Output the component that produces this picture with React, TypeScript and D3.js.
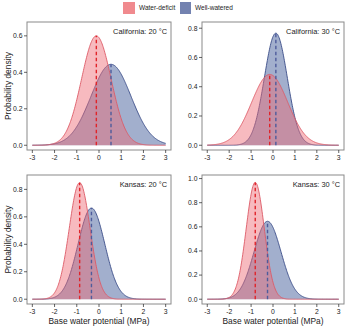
import React from 'react'
import * as d3 from 'd3'

// panel titles, in reading order
const panelTitles = ['California: 20 °C', 'California: 30 °C', 'Kansas: 20 °C', 'Kansas: 30 °C']

// fitted normal curves: mean (dashed line) and peak density
const deficitMeans = [-0.12, -0.15, -0.87, -0.81]
const deficitPeaks = [0.6, 0.484, 0.849, 0.968]
const wateredMeans = [0.54, 0.13, -0.34, -0.25]
const wateredPeaks = [0.444, 0.766, 0.664, 0.646]

// axis limits and ticks
const yLimits = [0.65, 0.81, 0.87, 0.99]
const yTicks = [
  [0, 0.2, 0.4, 0.6],
  [0, 0.2, 0.4, 0.6, 0.8],
  [0, 0.2, 0.4, 0.6, 0.8],
  [0, 0.2, 0.4, 0.6, 0.8, 1.0],
]
const xTicks = [-3, -2, -1, 0, 1, 2, 3]
const xRange = [-3, 3]

const legendLabels = ['Water-deficit', 'Well-watered']

const W = 350
const H = 327
const font = 'Liberation Sans, Arial, Helvetica, sans-serif'

const cols = [[27, 171], [202, 344]]
const rows = [[22, 150], [175, 304]]

const C = {
  deficitFill: 'rgba(238,105,115,0.46)',
  wateredFill: 'rgba(70,95,155,0.5)',
  deficitLine: '#dc5a66',
  wateredLine: '#3b4d88',
  deficitDash: '#e0242a',
  wateredDash: '#4e5c9c',
  box: '#8a8a8a',
  text: '#222',
}

// normal density with given mean and peak height
const density = (x: number, mean: number, peak: number) => {
  const sd = 1 / (peak * Math.sqrt(2 * Math.PI))
  return peak * Math.exp(-0.5 * ((x - mean) / sd) ** 2)
}

const Panel = ({i}: {i: number}) => {
  const [x0, x1] = cols[i % 2]
  const [y0, y1] = rows[Math.floor(i / 2)]

  const x = d3.scaleLinear().domain([-3.24, 3.24]).range([x0, x1])
  const M = yLimits[i]
  const y = d3.scaleLinear().domain([-0.04 * M, 1.04 * M]).range([y1, y0])

  const grid = d3.range(xRange[0], xRange[1] + 0.0001, 0.02)
  const area = d3.area<number[]>().x(d => x(d[0])).y0(y(0)).y1(d => y(d[1]))
  const line = d3.line<number[]>().x(d => x(d[0])).y(d => y(d[1]))

  const series = [
    {mean: wateredMeans[i], peak: wateredPeaks[i], fill: C.wateredFill, stroke: C.wateredLine, dash: C.wateredDash},
    {mean: deficitMeans[i], peak: deficitPeaks[i], fill: C.deficitFill, stroke: C.deficitLine, dash: C.deficitDash},
  ]

  return (
    <g>
      {series.map((s, k) => {
        const pts = grid.map(v => [v, density(v, s.mean, s.peak)])
        return (
          <g key={k}>
            <path d={area(pts) || ''} fill={s.fill} />
            <path d={line(pts) || ''} fill="none" stroke={s.stroke} strokeWidth={0.9} />
          </g>
        )
      })}
      {series.map((s, k) => (
        <line key={'d' + k} x1={x(s.mean)} x2={x(s.mean)} y1={y(0)} y2={y(s.peak)}
          stroke={s.dash} strokeWidth={1.4} strokeDasharray="3.5,2.5" />
      ))}
      <rect x={x0} y={y0} width={x1 - x0} height={y1 - y0} fill="none" stroke={C.box} strokeWidth={1} />
      {yTicks[i].map(t => (
        <g key={'y' + t}>
          <line x1={x0 - 3} x2={x0} y1={y(t)} y2={y(t)} stroke={C.text} strokeWidth={0.7} />
          <text x={x0 - 4.5} y={y(t)} dy="0.35em" textAnchor="end" fontSize={6.8} fill={C.text}>
            {t.toFixed(1)}
          </text>
        </g>
      ))}
      {xTicks.map(t => (
        <g key={'x' + t}>
          <line x1={x(t)} x2={x(t)} y1={y1} y2={y1 + 3} stroke={C.text} strokeWidth={0.7} />
          <text x={x(t)} y={y1 + 10} textAnchor="middle" fontSize={6.8} fill={C.text}>
            {t}
          </text>
        </g>
      ))}
      <text x={x1 - 4} y={y0 + 12} textAnchor="end" fontSize={7.4} fill={C.text}>
        {panelTitles[i]}
      </text>
    </g>
  )
}

const App = () => {
  return (
    <svg width={W} height={H} style={{position: 'absolute', left: 0, top: 0, background: '#fff'}} fontFamily={font}>
      <rect width={W} height={H} fill="#fff" />
      {/* legend */}
      <rect x={123} y={2} width={12} height={12} fill="#f08a8e" />
      <text x={139} y={8} dy="0.35em" fontSize={6.5} fill={C.text}>{legendLabels[0]}</text>
      <rect x={180} y={2} width={11} height={12} fill="#7382b0" />
      <text x={195} y={8} dy="0.35em" fontSize={6.5} fill={C.text}>{legendLabels[1]}</text>

      {[0, 1, 2, 3].map(i => <Panel key={i} i={i} />)}

      {rows.map((r, k) => (
        <text key={k} transform={`translate(8,${(r[0] + r[1]) / 2}) rotate(-90)`} textAnchor="middle"
          dy="0.35em" fontSize={8.4} fill={C.text}>
          Probability density
        </text>
      ))}
      {cols.map((c, k) => (
        <text key={k} x={(c[0] + c[1]) / 2} y={324} textAnchor="middle" fontSize={8.4} fill={C.text}>
          Base water potential (MPa)
        </text>
      ))}
    </svg>
  )
}

export default App
